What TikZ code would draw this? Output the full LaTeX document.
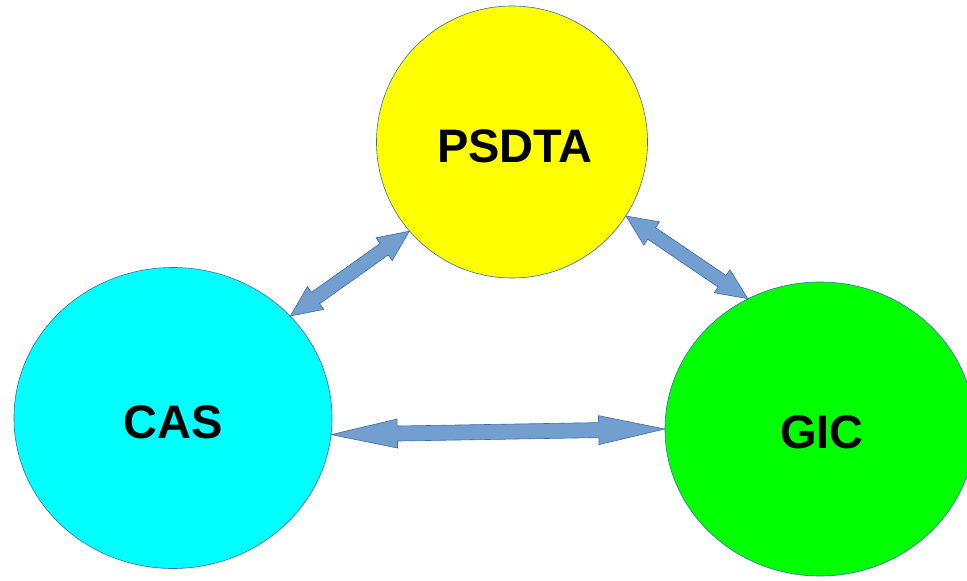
\documentclass[tikz,border=0pt]{standalone}
\usepackage{fontspec}
\setmainfont{Liberation Sans}
\usetikzlibrary{shapes.geometric,calc}
\definecolor{arrowfill}{HTML}{729FCF}
\definecolor{arrowline}{HTML}{3A6BAE}
\definecolor{ringline}{HTML}{3A6BAE}
\definecolor{ringyellow}{HTML}{FFFF00}
\definecolor{ringcyan}{HTML}{00FFFF}
\definecolor{ringgreen}{HTML}{00FF00}
\tikzset{
  ring/.style={ellipse, draw=ringline, line width=0.6pt, inner sep=0pt},
  lbl/.style={font=\fontsize{47}{51}\selectfont\bfseries, text=black, inner sep=0pt},
  barrow/.style={fill=arrowfill, draw=arrowline, line width=0.6pt, line join=miter},
}
% #1 tip A, #2 tip B, #3 head length, #4 head half width, #5 shaft half width
\newcommand\myblockarrow[5]{%
  \coordinate (ba1) at ($(#1)!#3!(#2)$);
  \coordinate (ba2) at ($(#2)!#3!(#1)$);
  \filldraw[barrow] (#1) -- ($(ba1)!#4!90:(#2)$) -- ($(ba1)!#5!90:(#2)$)
    -- ($(ba2)!#5!-90:(#1)$) -- ($(ba2)!#4!-90:(#1)$) -- (#2)
    -- ($(ba2)!#4!90:(#1)$) -- ($(ba2)!#5!90:(#1)$)
    -- ($(ba1)!#5!-90:(#2)$) -- ($(ba1)!#4!-90:(#2)$) -- cycle;
}
\begin{document}
\begin{tikzpicture}[x=1pt,y=-1pt]
  \useasboundingbox (0,0) rectangle (967,581);
  \clip (0,0) rectangle (967,581);
  \node[ring, fill=ringyellow, minimum width=271pt, minimum height=272pt] (psdta) at (512,142) {};
  \node[ring, fill=ringcyan, minimum width=318pt, minimum height=301pt] (cas) at (173,418) {};
  \node[ring, fill=ringgreen, minimum width=310pt, minimum height=294pt] (gic) at (820,429) {};
  \myblockarrow{cas.41}{psdta.221}{31pt}{14pt}{7pt}
  \myblockarrow{psdta.327}{gic.119}{31pt}{14pt}{7pt}
  \myblockarrow{cas.354}{gic.180}{66pt}{14.5pt}{7.5pt}
  \node[lbl] (psdtaL) at (515,146) {PSDTA};
  \node[lbl] (casL) at (173,422) {CAS};
  \node[lbl] (gicL) at (822,432) {GIC};
\end{tikzpicture}
\end{document}
